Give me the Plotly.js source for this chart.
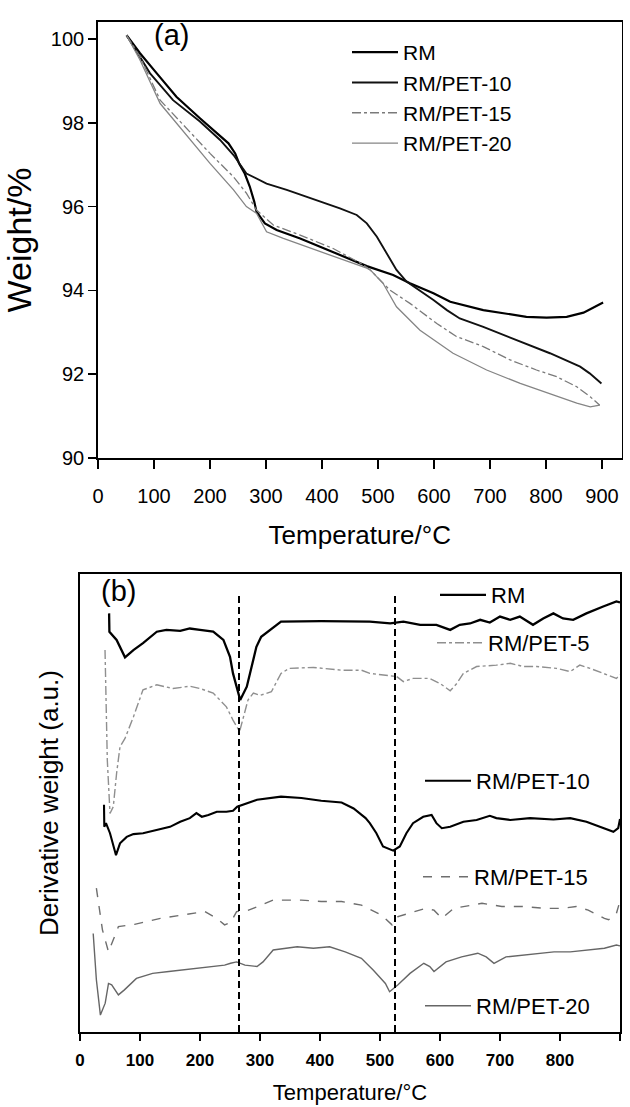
<!DOCTYPE html>
<html>
<head>
<meta charset="utf-8">
<script src="https://cdn.plot.ly/plotly-3.0.1.min.js"></script>
<style>
html,body{margin:0;padding:0;background:#fff;}
#chart{width:630px;height:1107px;}
</style>
</head>
<body>
<div id="chart"></div>
<script>
// ---------- Panel (a): TGA, weight (%) vs temperature (°C) ----------
const rmT_a = [51, 75, 105, 140, 182, 212, 233, 245, 252, 262, 271, 279, 283, 298, 319, 361, 420, 480, 527, 557, 599, 629, 688, 730, 765, 801, 837, 867, 902];
const rmW_a = [100.09, 99.66, 99.18, 98.62, 98.11, 97.75, 97.51, 97.27, 97.03, 96.79, 96.48, 96.12, 95.88, 95.60, 95.44, 95.24, 94.92, 94.58, 94.37, 94.17, 93.93, 93.73, 93.53, 93.44, 93.37, 93.35, 93.37, 93.47, 93.71];

const pet10T_a = [51, 63, 93, 134, 182, 218, 242, 265, 301, 337, 390, 432, 462, 480, 498, 515, 533, 551, 569, 599, 623, 646, 688, 748, 807, 861, 878, 899];
const pet10W_a = [100.09, 99.82, 99.18, 98.54, 98.03, 97.59, 97.23, 96.79, 96.55, 96.40, 96.16, 95.96, 95.80, 95.60, 95.28, 94.88, 94.49, 94.21, 94.05, 93.77, 93.53, 93.33, 93.13, 92.82, 92.50, 92.18, 92.02, 91.78];

const pet15T_a = [51, 75, 111, 152, 200, 242, 265, 283, 313, 361, 420, 474, 486, 521, 557, 605, 640, 688, 736, 783, 819, 855, 879, 896];
const pet15W_a = [100.09, 99.58, 98.54, 97.95, 97.27, 96.71, 96.32, 95.92, 95.56, 95.32, 95.00, 94.61, 94.49, 94.01, 93.69, 93.21, 92.90, 92.66, 92.34, 92.10, 91.94, 91.70, 91.46, 91.26];

const pet20T_a = [51, 75, 111, 152, 200, 242, 265, 283, 301, 331, 390, 450, 480, 486, 509, 533, 575, 634, 694, 754, 813, 855, 879, 896];
const pet20W_a = [100.09, 99.50, 98.46, 97.79, 97.03, 96.40, 96.00, 95.84, 95.40, 95.24, 94.96, 94.69, 94.53, 94.49, 94.17, 93.61, 93.05, 92.50, 92.10, 91.78, 91.50, 91.31, 91.22, 91.26];

const ticksA_x = [0, 100, 200, 300, 400, 500, 600, 700, 800, 900];
const ticksA_y = [90, 92, 94, 96, 98, 100];

// ---------- Panel (b): DTG, derivative weight (a.u.) vs temperature (°C) ----------
const rmT_b = [48.5, 49, 61, 75, 89, 105, 128, 144, 167, 183, 200, 222, 239, 250, 255, 267, 278, 286, 294, 302, 335, 402, 469, 483, 517, 539, 567, 594, 617, 633, 650, 667, 683, 700, 717, 733, 755, 772, 789, 805, 822, 844, 872, 894, 900];
const rmV_b = [91.4, 87.4, 85.6, 81.8, 83.4, 84.9, 87.4, 87.8, 87.6, 88.1, 87.8, 87.4, 85.6, 81.9, 78.3, 72.5, 75.4, 79.8, 84.1, 86.3, 89.6, 89.7, 89.6, 89.6, 89.2, 89.6, 88.9, 88.9, 87.8, 88.9, 89.2, 90.0, 89.4, 90.7, 90.0, 90.7, 88.9, 90.3, 91.4, 90.3, 90.0, 91.4, 92.9, 94.0, 93.8];

const pet5T_b = [41.7, 43.3, 45.5, 50, 55.5, 61, 66.7, 75, 89, 105, 128, 155, 183, 200, 222, 244, 255, 266, 272, 280, 289, 300, 319, 335, 349, 389, 436, 469, 483, 505, 528, 539, 555, 583, 600, 617, 628, 639, 661, 694, 717, 739, 761, 794, 817, 833, 850, 872, 894, 900];
const pet5V_b = [83.4, 74.0, 59.4, 47.7, 49.2, 56.5, 62.3, 64.1, 68.8, 74.7, 75.8, 75.0, 75.5, 75.0, 74.0, 71.0, 68.1, 65.6, 68.5, 72.5, 74.0, 73.5, 74.3, 78.3, 79.4, 79.6, 79.0, 79.0, 78.3, 77.9, 77.6, 76.5, 77.2, 77.2, 76.1, 74.5, 76.1, 78.3, 79.8, 80.1, 80.5, 79.8, 79.8, 79.4, 78.7, 80.1, 79.4, 78.3, 77.2, 78.0];

const pet10T_b = [40, 40.5, 43.3, 50, 60, 66.7, 77.8, 89, 105, 128, 150, 167, 183, 194, 203, 214, 228, 244, 255, 262, 295, 335, 369, 402, 436, 456, 476, 483, 494, 505, 522, 533, 544, 555, 572, 586, 594, 603, 617, 639, 661, 683, 694, 717, 750, 789, 817, 844, 872, 889, 897, 900];
const pet10V_b = [49.6, 44.8, 45.6, 43.4, 38.6, 41.2, 42.6, 43.2, 43.4, 44.1, 44.8, 45.9, 46.7, 47.8, 47.0, 47.4, 48.1, 48.1, 48.3, 49.2, 50.7, 51.4, 51.1, 50.5, 50.1, 48.8, 46.7, 45.6, 43.4, 40.5, 39.6, 40.5, 43.4, 45.6, 47.0, 47.4, 45.6, 44.5, 44.8, 45.9, 46.3, 47.2, 46.7, 46.3, 46.7, 46.4, 46.7, 45.9, 44.5, 43.7, 44.5, 46.5];

const pet15T_b = [27.3, 37.4, 47.5, 57.5, 64, 91, 134, 168, 208, 228, 241, 251, 261, 281, 322, 369, 402, 436, 469, 503, 520, 530, 556, 576, 590, 603, 623, 650, 670, 703, 737, 774, 804, 827, 847, 874, 881, 894, 898];
const pet15V_b = [31.4, 22.3, 17.5, 20.8, 23.0, 23.5, 24.8, 25.5, 26.3, 24.8, 23.4, 23.9, 26.3, 26.6, 28.8, 28.8, 28.5, 28.5, 27.7, 25.5, 23.4, 25.2, 26.3, 27.0, 26.6, 24.8, 27.0, 27.7, 28.1, 27.4, 27.4, 27.0, 27.0, 27.4, 26.6, 24.8, 24.5, 25.9, 27.7];

const pet20T_b = [22, 24.7, 27.3, 34, 42, 47.5, 52.8, 64, 74, 94, 121, 148, 181, 215, 241, 251, 261, 275, 295, 305, 322, 362, 389, 416, 442, 469, 489, 509, 516, 530, 550, 573, 583, 590, 610, 636, 663, 677, 690, 710, 737, 764, 790, 817, 847, 874, 894, 900];
const pet20V_b = [21.5, 15.0, 11.4, 3.7, 6.3, 10.6, 10.3, 8.1, 9.2, 11.7, 12.8, 13.2, 13.7, 14.3, 14.6, 15.0, 15.3, 14.6, 14.3, 15.3, 17.9, 18.6, 18.3, 18.6, 17.5, 16.1, 13.5, 10.6, 8.8, 10.3, 12.8, 15.0, 14.3, 13.2, 15.3, 16.4, 17.2, 16.4, 15.0, 16.4, 16.8, 17.2, 17.5, 17.5, 17.9, 18.3, 19.0, 18.8];

const guideT_b = [265, 525];      // dashed peak markers (°C)
const guideV_b = [0, 96];
const ticksB_x = [0, 100, 200, 300, 400, 500, 600, 700, 800, 900];

// ---------- figure geometry (px of the 630x1107 page) ----------
const W = 630, H = 1107;
const FONT = 'Liberation Sans, Arial, sans-serif';
const fx = p => p / W;
const fy = p => 1 - p / H;

const traces = [
  {x: rmT_a, y: rmW_a, name: 'RM', xaxis: 'x', yaxis: 'y', mode: 'lines',
   line: {color: '#000', width: 2.2}, legend: 'legend'},
  {x: pet10T_a, y: pet10W_a, name: 'RM/PET-10', xaxis: 'x', yaxis: 'y', mode: 'lines',
   line: {color: '#111', width: 1.9}, legend: 'legend'},
  {x: pet15T_a, y: pet15W_a, name: 'RM/PET-15', xaxis: 'x', yaxis: 'y', mode: 'lines',
   line: {color: '#7a7a7a', width: 1.3, dash: 'dashdot'}, legend: 'legend'},
  {x: pet20T_a, y: pet20W_a, name: 'RM/PET-20', xaxis: 'x', yaxis: 'y', mode: 'lines',
   line: {color: '#858585', width: 1.3}, legend: 'legend'},

  {x: rmT_b, y: rmV_b, name: 'RM', xaxis: 'x2', yaxis: 'y2', mode: 'lines',
   line: {color: '#000', width: 2.3}, legend: 'legend2'},
  {x: pet5T_b, y: pet5V_b, name: 'RM/PET-5', xaxis: 'x2', yaxis: 'y2', mode: 'lines',
   line: {color: '#8f8f8f', width: 1.4, dash: 'dashdot'}, legend: 'legend3'},
  {x: pet10T_b, y: pet10V_b, name: 'RM/PET-10', xaxis: 'x2', yaxis: 'y2', mode: 'lines',
   line: {color: '#000', width: 2.1}, legend: 'legend4'},
  {x: pet15T_b, y: pet15V_b, name: 'RM/PET-15', xaxis: 'x2', yaxis: 'y2', mode: 'lines',
   line: {color: '#6e6e6e', width: 1.4, dash: 'dash'}, legend: 'legend5'},
  {x: pet20T_b, y: pet20V_b, name: 'RM/PET-20', xaxis: 'x2', yaxis: 'y2', mode: 'lines',
   line: {color: '#666', width: 1.4}, legend: 'legend6'}
];
guideT_b.forEach(t => traces.push({
  x: [t, t], y: guideV_b, xaxis: 'x2', yaxis: 'y2', mode: 'lines', showlegend: false,
  line: {color: '#000', width: 2, dash: '7px,4px'}, hoverinfo: 'skip'
}));

const axisBase = {
  showline: true, linecolor: '#000', mirror: true, showgrid: false, zeroline: false,
  ticks: 'outside', tickcolor: '#000'
};
const legBase = {bgcolor: 'rgba(0,0,0,0)', borderwidth: 0, xanchor: 'left', yanchor: 'middle',
  itemwidth: 46, tracegroupgap: 0};

const layout = {
  width: W, height: H, margin: {l: 0, r: 0, t: 0, b: 0},
  paper_bgcolor: '#fff', plot_bgcolor: '#fff', font: {family: FONT, color: '#000'},
  xaxis: Object.assign({}, axisBase, {
    domain: [fx(98), fx(621.6)], range: [0, 935], anchor: 'y',
    tickvals: ticksA_x, ticklen: 9, tickwidth: 1.5, linewidth: 1.8,
    tickfont: {size: 20, family: FONT}, ticklabelstandoff: 10,
    title: {text: 'Temperature/°C', font: {size: 26, family: FONT}, standoff: 20}
  }),
  yaxis: Object.assign({}, axisBase, {
    domain: [fy(458), fy(22)], range: [90, 100.406], anchor: 'x',
    tickvals: ticksA_y, ticklen: 8, tickwidth: 1.5, linewidth: 1.8,
    tickfont: {size: 20, family: FONT},
    title: {text: 'Weight/%', font: {size: 34, family: FONT}, standoff: 12}
  }),
  xaxis2: Object.assign({}, axisBase, {
    domain: [fx(80), fx(620)], range: [0, 900], anchor: 'y2',
    tickvals: ticksB_x, ticklen: 7, tickwidth: 1.8, linewidth: 2,
    tickfont: {size: 17, family: FONT, weight: 'bold'}, ticklabelstandoff: 5,
    title: {text: 'Temperature/°C', font: {size: 22, family: FONT}, standoff: 15}
  }),
  yaxis2: Object.assign({}, axisBase, {
    domain: [fy(1032), fy(574)], range: [0, 100], anchor: 'x2',
    ticks: '', showticklabels: false, linewidth: 2,
    title: {text: 'Derivative weight (a.u.)', font: {size: 26, family: FONT}, standoff: 12}
  }),
  legend: Object.assign({}, legBase, {x: fx(347), y: fy(98), yanchor: 'middle',
    font: {size: 21, family: FONT}}),
  legend2: Object.assign({}, legBase, {x: fx(435), y: fy(595), font: {size: 22, family: FONT}}),
  legend3: Object.assign({}, legBase, {x: fx(432), y: fy(643), font: {size: 22, family: FONT}}),
  legend4: Object.assign({}, legBase, {x: fx(420), y: fy(781), font: {size: 22, family: FONT}}),
  legend5: Object.assign({}, legBase, {x: fx(418), y: fy(877), font: {size: 22, family: FONT}}),
  legend6: Object.assign({}, legBase, {x: fx(420), y: fy(1006), font: {size: 22, family: FONT}}),
  annotations: [
    {text: '(a)', xref: 'paper', yref: 'paper', x: fx(171), y: fy(35), showarrow: false,
     xanchor: 'center', yanchor: 'middle', font: {size: 29, family: FONT}},
    {text: '(b)', xref: 'paper', yref: 'paper', x: fx(118), y: fy(591), showarrow: false,
     xanchor: 'center', yanchor: 'middle', font: {size: 29, family: FONT}}
  ],
  showlegend: true
};

Plotly.newPlot('chart', traces, layout, {staticPlot: true, displayModeBar: false});
</script>
</body>
</html>
